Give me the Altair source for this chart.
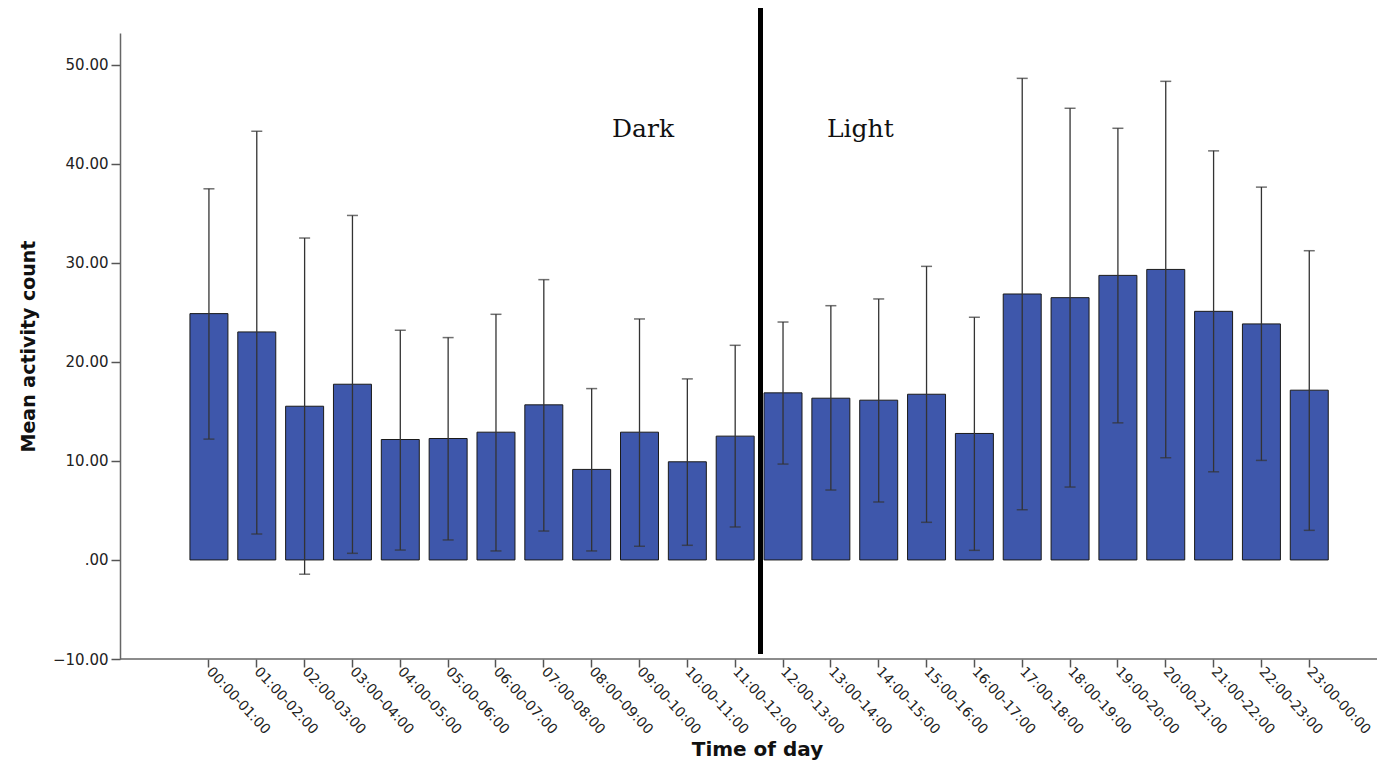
import altair as alt
import pandas as pd

hours = ["00:00-01:00", "01:00-02:00", "02:00-03:00", "03:00-04:00", "04:00-05:00",
         "05:00-06:00", "06:00-07:00", "07:00-08:00", "08:00-09:00", "09:00-10:00",
         "10:00-11:00", "11:00-12:00", "12:00-13:00", "13:00-14:00", "14:00-15:00",
         "15:00-16:00", "16:00-17:00", "17:00-18:00", "18:00-19:00", "19:00-20:00",
         "20:00-21:00", "21:00-22:00", "22:00-23:00", "23:00-00:00"]
means = [24.87, 23.02, 15.52, 17.74, 12.16, 12.26, 12.90, 15.66, 9.14, 12.90, 9.91, 12.50,
         16.87, 16.33, 16.13, 16.73, 12.77, 26.85, 26.48, 28.73, 29.33, 25.10, 23.83, 17.14]
upper = [37.47, 43.28, 32.50, 34.78, 23.19, 22.45, 24.80, 28.30, 17.30, 24.33, 18.28, 21.67,
         24.02, 25.67, 26.35, 29.64, 24.50, 48.62, 45.60, 43.58, 48.32, 41.30, 37.64, 31.22]
lower = [12.20, 2.62, -1.44, 0.67, 1.00, 2.02, 0.91, 2.92, 0.91, 1.38, 1.48, 3.33,
         9.68, 7.06, 5.85, 3.80, 0.97, 5.07, 7.36, 13.84, 10.32, 8.90, 10.05, 2.99]
y_ticks = [-10, 0, 10, 20, 30, 40, 50]
phase_labels = ["Dark", "Light"]

df = pd.DataFrame({"hour": hours, "mean": means, "upper": upper, "lower": lower})

xscale = alt.Scale(domain=hours, paddingInner=0.206, paddingOuter=1, align=0.731)
yscale = alt.Scale(domain=[-10, 53.2], nice=False, zero=False)

x_enc = alt.X("hour:N", scale=xscale, sort=hours,
              axis=alt.Axis(title="Time of day", labelAngle=47, labelAlign="left",
                            labelBaseline="middle", labelPadding=2, labelFontSize=14,
                            labelFont="DejaVu Sans", labelColor="#222", tickSize=8,
                            tickColor="#555", tickWidth=1.5, domain=False,
                            titleFont="DejaVu Sans", titleFontSize=20,
                            titleFontWeight="bold", titleColor="#111", titleX=637,
                            titleY=90, titleBaseline="middle", titleAlign="center",
                            grid=False))
y_enc = alt.Y("mean:Q", scale=yscale,
              axis=alt.Axis(title="Mean activity count", values=y_ticks,
                            labelExpr="datum.value == 0 ? '.00' : format(datum.value, '.2f')",
                            labelFontSize=15, labelFont="DejaVu Sans", labelColor="#222",
                            labelPadding=3, tickSize=9, tickColor="#555", tickWidth=1.5,
                            domainColor="#666", domainWidth=1.5, titleFont="DejaVu Sans",
                            titleFontSize=19, titleFontWeight="bold", titleColor="#111",
                            titleX=-92, titleY=313, titleAngle=270, titleAlign="center",
                            titleBaseline="middle", grid=False))

base = alt.Chart(df)

bars = base.mark_bar(color="#3E57AB", stroke="#1a1a1a", strokeWidth=1).encode(
    x=x_enc, y=y_enc)

err = base.mark_rule(color="#333", strokeWidth=1.3).encode(
    x=alt.X("hour:N", scale=xscale, sort=hours),
    y=alt.Y("lower:Q", scale=yscale), y2="upper:Q")

cap_hi = base.mark_tick(color="#333", thickness=1.5, size=11, orient="horizontal").encode(
    x=alt.X("hour:N", scale=xscale, sort=hours), y=alt.Y("upper:Q", scale=yscale))
cap_lo = base.mark_tick(color="#333", thickness=1.5, size=11, orient="horizontal").encode(
    x=alt.X("hour:N", scale=xscale, sort=hours), y=alt.Y("lower:Q", scale=yscale))

lab_df = pd.DataFrame({"label": phase_labels})

x_axis_line = alt.Chart(lab_df.head(1)).mark_rule(color="#666", strokeWidth=1.5).encode(
    x=alt.value(0), x2=alt.value(1258), y=alt.value(626))

divider = alt.Chart(lab_df.head(1)).mark_rule(color="black", strokeWidth=5).encode(
    x=alt.value(640.5), y=alt.value(-27), y2=alt.value(621))

dark = alt.Chart(lab_df[lab_df.label == "Dark"]).mark_text(
    font="DejaVu Serif", fontSize=25, align="left", baseline="alphabetic", color="#111"
).encode(x=alt.value(492), y=alt.value(104), text="label:N")
light = alt.Chart(lab_df[lab_df.label == "Light"]).mark_text(
    font="DejaVu Serif", fontSize=25, align="left", baseline="alphabetic", color="#111"
).encode(x=alt.value(707), y=alt.value(104), text="label:N")

chart = alt.layer(x_axis_line, bars, err, cap_hi, cap_lo, divider, dark, light).properties(
    width=1234, height=626,
    autosize=alt.AutoSizeParams(type="none"),
    padding={"left": 112, "top": 25, "right": 23, "bottom": 105},
).configure(background="white").configure_view(stroke=None, strokeWidth=0)

chart.save("out.html", embed_options={"renderer": "svg", "actions": False})
